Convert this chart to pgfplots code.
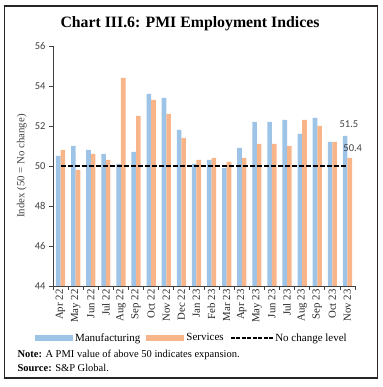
\documentclass[border=0pt]{standalone}
\usepackage{pgfplots}
\pgfplotsset{compat=1.18}
\usepackage{fontspec}
\setmainfont{Liberation Serif}
\newfontfamily\tickfont{Carlito}
\definecolor{mblue}{HTML}{9DC3E6}
\definecolor{sorange}{HTML}{F8B58A}
\definecolor{axgrey}{HTML}{404040}
\begin{document}
\begin{tikzpicture}[x=1pt,y=1pt]
\path[use as bounding box] (0,0) rectangle (382,387);
\draw[line width=1.1pt, black!85] (4.5,9) rectangle (377.5,381);
\node[font=\fontsize{15.8}{18}\selectfont\bfseries] at (190,363) {Chart III.6: PMI Employment Indices};
\begin{axis}[
  at={(53pt,101pt)}, anchor=south west, scale only axis,
  width=302pt, height=240pt,
  xmin=-0.5, xmax=19.5, ymin=44, ymax=56,
  ytick={44,46,...,56},
  axis lines*=left,
  axis line style={axgrey, line width=0.8pt},
  tick align=outside,
  tick style={axgrey, line width=0.8pt},
  major tick length=4pt,
  /pgf/number format/assume math mode=true,
  yticklabel style={font=\tickfont\fontsize{10.5}{12}\selectfont, text=axgrey},
  xtick={-0.5,0.5,...,19.5},
  xticklabels={},
  extra x ticks={0,1,...,19},
  extra x tick labels={Apr 22,May 22,Jun 22,Jul 22,Aug 22,Sep 22,Oct 22,Nov 22,Dec 22,Jan 23,Feb 23,Mar 23,Apr 23,May 23,Jun 23,Jul 23,Aug 23,Sep 23,Oct 23,Nov 23},
  extra x tick style={major tick length=0pt, xmajorgrids=false},
  xticklabel style={rotate=90, anchor=east, font=\fontsize{10.8}{12}\selectfont, text=black!85},
  ylabel={Index (50 = No change)},
  ylabel style={at={(axis description cs:-0.103,0.5)}, anchor=center, font=\fontsize{10.8}{12}\selectfont, text=black!75},
  clip=false,
  legend columns=3,
  legend style={at={(axis description cs:0.46,-0.217)}, anchor=center, draw=none, fill=none,
    font=\fontsize{11}{13}\selectfont, inner sep=0pt,
    /tikz/every even column/.append style={column sep=4pt}},
]
\addplot[ybar, bar width=4.6pt, bar shift=-2.3pt, fill=mblue, draw=none,
  legend image code/.code={\fill[mblue] (0pt,-3pt) rectangle (38pt,3pt);}]
  coordinates {(0,50.5) (1,51.0) (2,50.8) (3,50.6) (4,50.1) (5,50.7) (6,53.6) (7,53.4) (8,51.8) (9,50.1)
  (10,50.3) (11,49.9) (12,50.9) (13,52.2) (14,52.2) (15,52.3) (16,51.6) (17,52.4) (18,51.2) (19,51.5)};
\addlegendentry{Manufacturing}
\addplot[ybar, bar width=4.6pt, bar shift=2.3pt, fill=sorange, draw=none,
  legend image code/.code={\fill[sorange] (0pt,-3pt) rectangle (38pt,3pt);}]
  coordinates {(0,50.8) (1,49.8) (2,50.6) (3,50.3) (4,54.4) (5,52.5) (6,53.3) (7,52.6) (8,51.4) (9,50.3)
  (10,50.4) (11,50.2) (12,50.4) (13,51.1) (14,51.1) (15,51.0) (16,52.3) (17,52.0) (18,51.2) (19,50.4)};
\addlegendentry{Services}
\addplot[sharp plot, black, line width=1.8pt, dash pattern=on 5pt off 2pt,
  legend image code/.code={\draw[black, line width=1.6pt, dash pattern=on 4pt off 1.5pt] (0pt,0pt) -- (42pt,0pt);}]
  coordinates {(0,50) (19,50)};
\addlegendentry{No change level}
\node[font=\tickfont\fontsize{10.5}{12}\selectfont, text=axgrey] at (axis cs:19.1,52.1) {51.5};
\node[font=\tickfont\fontsize{10.5}{12}\selectfont, text=axgrey] at (axis cs:19.35,50.9) {50.4};
\end{axis}
\node[anchor=west, font=\fontsize{10.5}{12}\selectfont] at (14,32) {\textbf{Note:} A PMI value of above 50 indicates expansion.};
\node[anchor=west, font=\fontsize{10.5}{12}\selectfont] at (14,19) {\textbf{Source:} S\&P Global.};
\end{tikzpicture}
\end{document}
